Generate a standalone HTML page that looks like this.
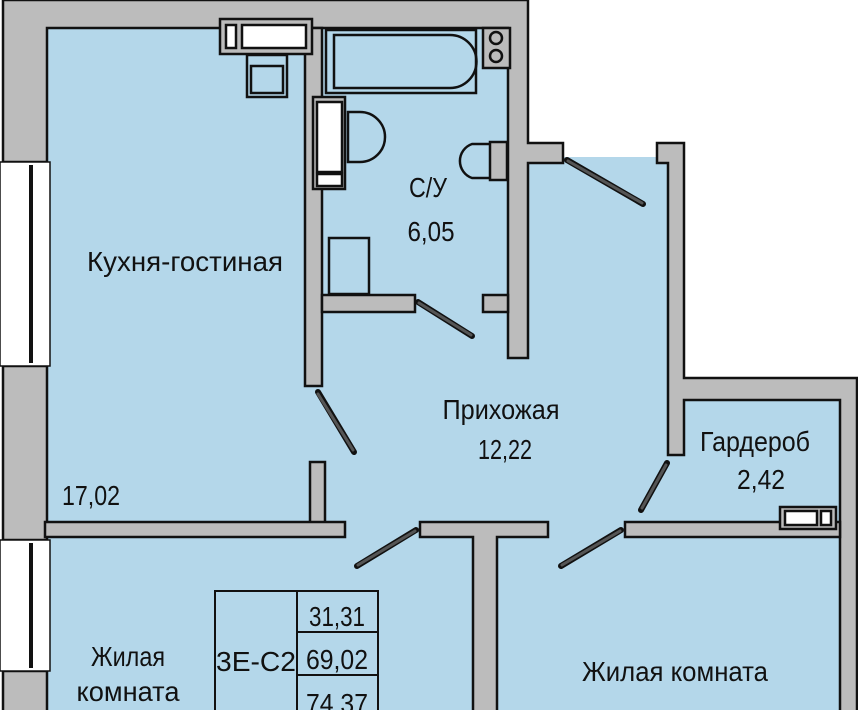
<!DOCTYPE html>
<html><head><meta charset="utf-8"><style>
html,body{margin:0;padding:0;background:#fff;width:858px;height:710px;overflow:hidden}
svg{display:block}
text{font-family:"Liberation Sans",sans-serif;font-size:28px;fill:#111}
</style></head><body>
<svg width="858" height="710" viewBox="0 0 858 710" xmlns="http://www.w3.org/2000/svg">
<g fill="#b4d7ea">
<rect x="45" y="28" width="470" height="500"/>
<rect x="505" y="157" width="165" height="380"/>
<rect x="670" y="398" width="172" height="312"/>
<rect x="45" y="525" width="800" height="185"/>
</g>
<g fill="#bcbcbc" stroke="#111" stroke-width="2.5">
<path d="M3,0 H528 V143 H563 V163 H528 V358 H508 V28 H47 V162 H3 Z"/>
<rect x="3" y="366" width="44" height="174"/>
<rect x="3" y="671" width="44" height="45"/>
<path d="M657,143 H684 V378 H857 V715 H840 V400 H684 V455 H668 V163 H657 Z"/>
<rect x="305" y="28" width="17" height="358"/>
<rect x="310" y="462" width="15" height="62"/>
<rect x="45" y="522" width="300" height="15"/>
<rect x="322" y="295" width="93" height="17"/>
<rect x="483" y="295" width="25" height="17"/>
<path d="M420,522 H548 V537 H497 V715 H473 V537 H420 Z"/>
<rect x="625" y="522" width="215" height="15"/>
</g>
<g fill="#fff" stroke="#111">
<rect x="0" y="162" width="50" height="204" stroke-width="1.5"/>
<rect x="0" y="540" width="50" height="131" stroke-width="1.5"/>
</g>
<g stroke="#111" stroke-width="4"><line x1="31" y1="165" x2="31" y2="363"/><line x1="31" y1="543" x2="31" y2="668"/></g>
<g stroke="#111" stroke-width="6" stroke-linecap="round">
<line x1="318" y1="392" x2="354" y2="452"/>
<line x1="418" y1="302" x2="472" y2="336"/>
<line x1="567" y1="160" x2="643" y2="204"/>
<line x1="667" y1="463" x2="641" y2="510"/>
<line x1="416" y1="530" x2="357" y2="566"/>
<line x1="621" y1="530" x2="561" y2="566"/>
</g>
<g stroke="#555" stroke-width="3" stroke-linecap="round">
<line x1="318" y1="394" x2="353" y2="450"/>
<line x1="419" y1="303" x2="471" y2="335"/>
<line x1="568" y1="161" x2="642" y2="203"/>
<line x1="666" y1="465" x2="642" y2="508"/>
<line x1="415" y1="531" x2="358" y2="565"/>
<line x1="620" y1="531" x2="562" y2="565"/>
</g>
<g fill="none" stroke="#111" stroke-width="2.5">
<rect x="220" y="19" width="92" height="35" fill="#bcbcbc"/>
<rect x="226" y="25" width="10" height="23" fill="#fff"/>
<rect x="242" y="25" width="64" height="23" fill="#fff"/>
<rect x="247" y="55" width="40" height="42"/>
<rect x="251" y="66" width="32" height="27"/>
<rect x="326" y="30" width="150" height="63"/>
<path d="M334,35 H450 A25,25 0 0 1 450,88 H334 Z"/>
<rect x="483" y="28" width="27" height="40" fill="#bcbcbc"/>
<circle cx="496" cy="38" r="6"/><circle cx="496" cy="56" r="6"/>
<rect x="313" y="97" width="32" height="92" fill="#bcbcbc"/>
<rect x="317" y="102" width="25" height="70" fill="#fff"/>
<rect x="317" y="174" width="25" height="12" fill="#fff"/>
<path d="M348,112 H360 A25,25 0 0 1 360,162 H348 Z"/>
<path d="M490,144 H472 A18,18 0 0 0 472,178 H490"/>
<rect x="490" y="142" width="17" height="38" fill="#bcbcbc"/>
<rect x="329" y="238" width="40" height="56"/>
<rect x="780" y="507" width="56" height="22" fill="#bcbcbc"/>
<rect x="785" y="511" width="32" height="14" fill="#fff"/>
<rect x="821" y="511" width="10" height="14" fill="#fff"/>
</g>
<g fill="none" stroke="#111" stroke-width="2">
<path d="M215,715 V591 H378 V715 M297,591 V715 M297,632 H378 M297,675 H378"/>
</g>
<text x="185" y="271" text-anchor="middle" textLength="196" lengthAdjust="spacingAndGlyphs">Кухня-гостиная</text>
<text x="91" y="505" text-anchor="middle" textLength="58" lengthAdjust="spacingAndGlyphs">17,02</text>
<text x="428" y="197" text-anchor="middle" textLength="38" lengthAdjust="spacingAndGlyphs">С/У</text>
<text x="431" y="241" text-anchor="middle" textLength="47" lengthAdjust="spacingAndGlyphs">6,05</text>
<text x="501" y="419" text-anchor="middle" textLength="117" lengthAdjust="spacingAndGlyphs">Прихожая</text>
<text x="505" y="459" text-anchor="middle" textLength="54" lengthAdjust="spacingAndGlyphs">12,22</text>
<text x="755" y="451" text-anchor="middle" textLength="110" lengthAdjust="spacingAndGlyphs">Гардероб</text>
<text x="761" y="489" text-anchor="middle" textLength="48" lengthAdjust="spacingAndGlyphs">2,42</text>
<text x="128" y="666" text-anchor="middle" textLength="74" lengthAdjust="spacingAndGlyphs">Жилая</text>
<text x="128" y="701" text-anchor="middle" textLength="103" lengthAdjust="spacingAndGlyphs">комната</text>
<text x="675" y="681" text-anchor="middle" textLength="186" lengthAdjust="spacingAndGlyphs">Жилая комната</text>
<text x="256" y="671" text-anchor="middle" textLength="80" lengthAdjust="spacingAndGlyphs">3Е-С2</text>
<text x="337" y="626" text-anchor="middle" textLength="56" lengthAdjust="spacingAndGlyphs">31,31</text>
<text x="337" y="669" text-anchor="middle" textLength="62" lengthAdjust="spacingAndGlyphs">69,02</text>
<text x="337" y="713" text-anchor="middle" textLength="62" lengthAdjust="spacingAndGlyphs">74,37</text>
</svg>
</body></html>
